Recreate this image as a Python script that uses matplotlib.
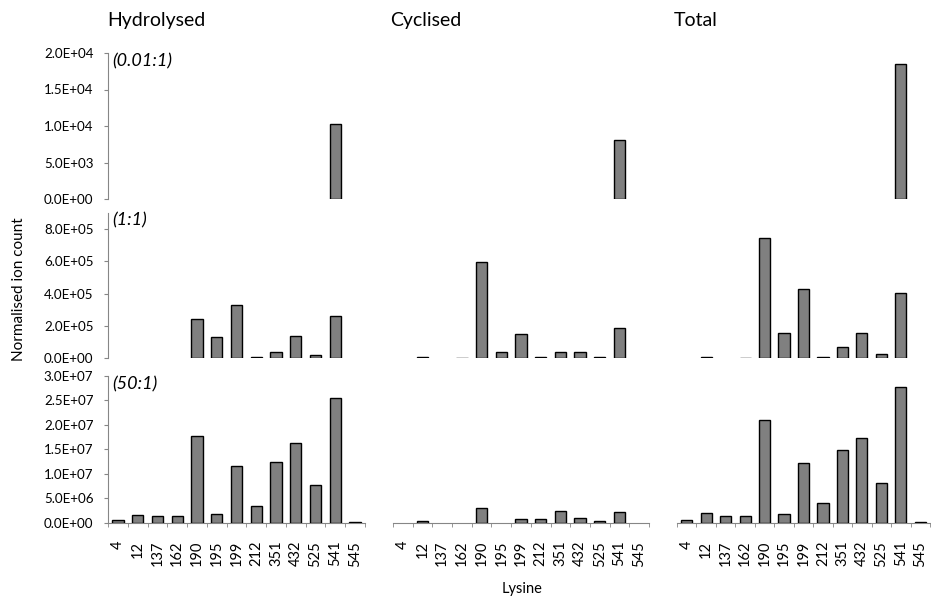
import matplotlib
matplotlib.use("Agg")
import matplotlib.pyplot as plt
from matplotlib.ticker import FuncFormatter, FixedLocator
import numpy as np

plt.rcParams['font.family'] = ['Lato', 'DejaVu Sans']

lysines = ["4", "12", "137", "162", "190", "195", "199", "212", "351", "432", "525", "541", "545"]
columns = ["Hydrolysed", "Cyclised", "Total"]
ratios = ["(0.01:1)", "(1:1)", "(50:1)"]

# Ratio 0.01:1
hyd_001 = [0, 0, 0, 0, 0, 0, 0, 0, 0, 0, 0, 1.03e4, 0]
cyc_001 = [0, 0, 0, 0, 0, 0, 0, 0, 0, 0, 0, 8.1e3, 0]
tot_001 = [0, 0, 0, 0, 0, 0, 0, 0, 0, 0, 0, 1.85e4, 0]

# Ratio 1:1
hyd_1 = [0, 0, 0, 0, 2.40e5, 1.33e5, 3.32e5, 5e3, 4.1e4, 1.37e5, 2.0e4, 2.62e5, 0]
cyc_1 = [0, 8e3, 0, 3e3, 5.93e5, 3.7e4, 1.48e5, 5e3, 3.7e4, 4.1e4, 6e3, 1.86e5, 0]
tot_1 = [0, 8e3, 0, 3e3, 7.46e5, 1.54e5, 4.31e5, 8e3, 7.1e4, 1.56e5, 2.5e4, 4.04e5, 0]

# Ratio 50:1
hyd_50 = [5e5, 1.57e6, 1.43e6, 1.37e6, 1.78e7, 1.78e6, 1.16e7, 3.35e6, 1.24e7, 1.64e7, 7.7e6, 2.56e7, 2e5]
cyc_50 = [0, 4e5, 0, 0, 3.1e6, 0, 7e5, 7.5e5, 2.4e6, 9e5, 4e5, 2.25e6, 0]
tot_50 = [5e5, 1.92e6, 1.43e6, 1.37e6, 2.09e7, 1.78e6, 1.23e7, 4.0e6, 1.48e7, 1.73e7, 8.1e6, 2.78e7, 2e5]

data = [
    [hyd_001, cyc_001, tot_001],
    [hyd_1, cyc_1, tot_1],
    [hyd_50, cyc_50, tot_50],
]
y_max = [2e4, 9e5, 3e7]
y_ticks = [
    [0, 5e3, 1e4, 1.5e4, 2e4],
    [0, 2e5, 4e5, 6e5, 8e5],
    [0, 5e6, 1e7, 1.5e7, 2e7, 2.5e7, 3e7],
]

W, H = 931, 598
fig = plt.figure(figsize=(W / 100, H / 100), dpi=100)

col_x = [(108, 365), (393, 649), (677, 930)]
row_y = [(53, 199), (212.7, 358.3), (376, 522.7)]

axis_gray = "#868686"
x = np.arange(len(lysines))

def sci(v, _pos):
    return f"{v:.1E}"

for r in range(3):
    for c in range(3):
        x0, x1 = col_x[c]
        yt, yb = row_y[r]
        ax = fig.add_axes([x0 / W, 1 - yb / H, (x1 - x0) / W, (yb - yt) / H])
        vals = np.asarray(data[r][c], dtype=float)
        present = vals > 0  # empty categories get no bar outline
        ax.bar(x[present], vals[present], width=0.57, color="#808080",
               edgecolor="black", linewidth=1.0, zorder=3)
        ax.set_xlim(-0.5, len(lysines) - 0.5)
        ax.set_ylim(0, y_max[r])
        for s in ["top", "right"]:
            ax.spines[s].set_visible(False)
        ax.spines["left"].set_color(axis_gray)
        ax.spines["bottom"].set_color(axis_gray)
        ax.spines["left"].set_visible(c == 0)
        ax.spines["bottom"].set_visible(r == 2)

        if c == 0:
            ax.yaxis.set_major_locator(FixedLocator(y_ticks[r]))
            ax.yaxis.set_major_formatter(FuncFormatter(sci))
            ax.tick_params(axis="y", direction="out", length=3, color=axis_gray,
                           labelsize=9.6, pad=7.5)
            ax.text(0.015, 1.0, ratios[r], transform=ax.transAxes,
                    fontsize=13, style="italic", ha="left", va="top")
        else:
            ax.set_yticks([])

        if r == 2:
            ax.set_xticks(x)
            ax.set_xticklabels(lysines, rotation=90, fontsize=10.5)
            ax.tick_params(axis="x", which="major", length=0, pad=13)
            ax.xaxis.set_minor_locator(FixedLocator(np.arange(-0.5, len(lysines), 1.0)))
            ax.tick_params(axis="x", which="minor", direction="out", length=3,
                           color=axis_gray)
        else:
            ax.set_xticks([])

        if r == 0:
            fig.text(x0 / W - (0.6 if c == 0 else 2.5 if c == 1 else 3) / W,
                     1 - 26 / H, columns[c], fontsize=14, ha="left", va="baseline")

fig.text(19 / W, 1 - 289 / H, "Normalised ion count", rotation=90,
         fontsize=11, ha="center", va="center")
fig.text(522 / W, 1 - 589 / H, "Lysine", fontsize=10.5, ha="center", va="center")

fig.savefig("out.png", dpi=100)
